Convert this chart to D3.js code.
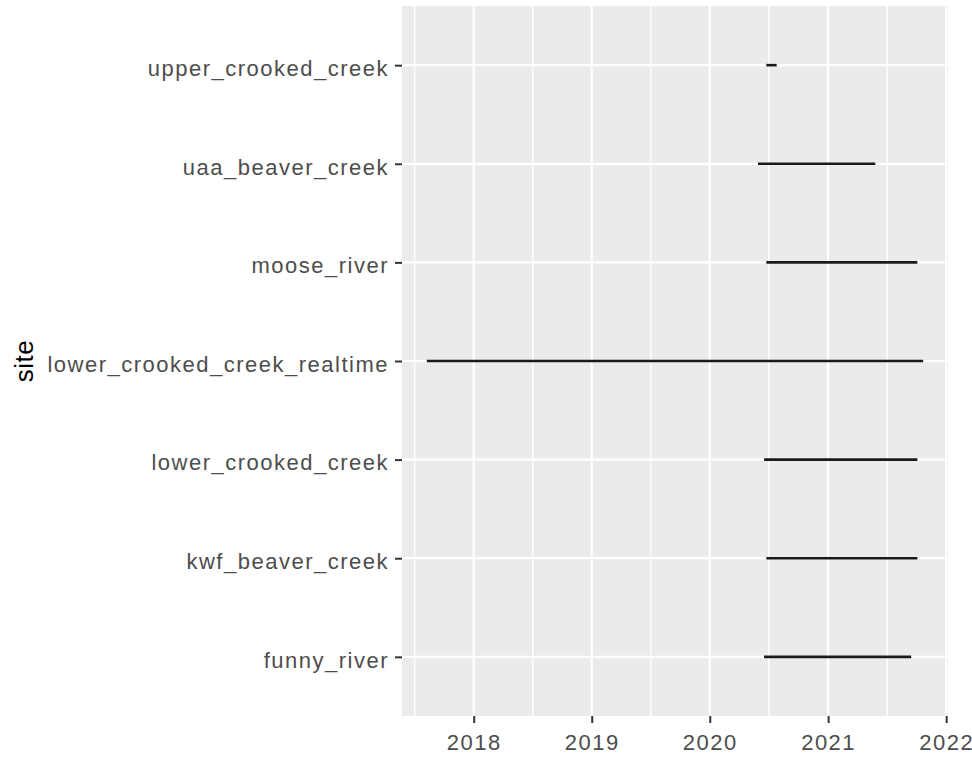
<!DOCTYPE html>
<html>
<head>
<meta charset="utf-8">
<script src="https://cdn.jsdelivr.net/npm/d3@7"></script>
<style>
    body { margin: 0; background: #ffffff; }
    svg { display: block; }
    text { font-family: "Liberation Sans", Arial, sans-serif; }
</style>
</head>
<body>
<div id="chart"></div>
<script>
// sites, bottom to top as in the plot
const sites = [
    "funny_river",
    "kwf_beaver_creek",
    "lower_crooked_creek",
    "lower_crooked_creek_realtime",
    "moose_river",
    "uaa_beaver_creek",
    "upper_crooked_creek"
];
// first and last record per site
const startDates = ["2020-06-17", "2020-06-24", "2020-06-17", "2017-08-09", "2020-06-24", "2020-05-29", "2020-06-24"];
const endDates = ["2021-09-15", "2021-10-04", "2021-10-04", "2021-10-22", "2021-10-04", "2021-05-27", "2020-07-26"];
const yearTicks = [2018, 2019, 2020, 2021, 2022];

const width = 972, height = 759;
const margin = {top: 6, right: 24, bottom: 43, left: 402};
const panelW = width - margin.left - margin.right;
const panelH = height - margin.top - margin.bottom;

const parse = d3.timeParse("%Y-%m-%d");
const rows = sites.map((s, i) => ({site: s, start: parse(startDates[i]), end: parse(endDates[i])}));

const svg = d3.select("#chart").append("svg")
    .attr("width", width)
    .attr("height", height);

// ggplot-style 5% expansion of the date range
const lo = d3.min(rows, d => +d.start), hi = d3.max(rows, d => +d.end);
const pad = (hi - lo) * 0.05;
const x = d3.scaleTime()
    .domain([new Date(lo - pad), new Date(hi + pad)])
    .range([0, panelW]);

const y = d3.scalePoint()
    .domain(sites)
    .range([panelH, 0])
    .padding(0.6);

const g = svg.append("g").attr("transform", `translate(${margin.left},${margin.top})`);

g.append("rect")
    .attr("width", panelW)
    .attr("height", panelH)
    .attr("fill", "#ebebeb");

const majors = yearTicks.map(yr => new Date(yr, 0, 1));
let minors = [];
for (let i = -1; i < majors.length; i++) {
    let a = i < 0 ? new Date(yearTicks[0] - 1, 0, 1) : majors[i];
    let b = i + 1 < majors.length ? majors[i + 1] : new Date(yearTicks[yearTicks.length - 1] + 1, 0, 1);
    let m = new Date((+a + +b) / 2);
    if (x(m) >= 0 && x(m) <= panelW) minors.push(m);
}

g.selectAll("line.minor").data(minors).join("line")
    .attr("class", "minor")
    .attr("x1", d => x(d)).attr("x2", d => x(d))
    .attr("y1", 0).attr("y2", panelH)
    .attr("stroke", "#ffffff").attr("stroke-width", 1.4);

g.selectAll("line.majorx").data(majors.filter(d => x(d) <= panelW + 1)).join("line")
    .attr("class", "majorx")
    .attr("x1", d => x(d)).attr("x2", d => x(d))
    .attr("y1", 0).attr("y2", panelH)
    .attr("stroke", "#ffffff").attr("stroke-width", 2.2);

g.selectAll("line.majory").data(sites).join("line")
    .attr("class", "majory")
    .attr("x1", 0).attr("x2", panelW)
    .attr("y1", d => y(d)).attr("y2", d => y(d))
    .attr("stroke", "#ffffff").attr("stroke-width", 2.2);

// one segment per site
g.selectAll("line.seg").data(rows).join("line")
    .attr("class", "seg")
    .attr("x1", d => x(d.start)).attr("x2", d => x(d.end))
    .attr("y1", d => y(d.site)).attr("y2", d => y(d.site))
    .attr("stroke", "#1a1a1a").attr("stroke-width", 2.6);

// axes
const xAxis = g.append("g")
    .attr("transform", `translate(0,${panelH})`)
    .call(d3.axisBottom(x).tickValues(majors).tickFormat(d3.timeFormat("%Y")).tickSize(7).tickPadding(11));

const yAxis = g.append("g")
    .call(d3.axisLeft(y).tickSize(7).tickPadding(6));

[xAxis, yAxis].forEach(ax => {
    ax.select(".domain").remove();
    ax.selectAll(".tick line").attr("stroke", "#333333").attr("stroke-width", 2);
    ax.selectAll(".tick text")
        .attr("fill", "#4d4d4d")
        .style("font-size", "22px")
        .style("letter-spacing", "1.5px")
        .style("font-family", "'Liberation Sans', Arial, sans-serif");
});
xAxis.selectAll(".tick text").attr("dy", "0.71em");
yAxis.selectAll(".tick text").attr("dy", "0.47em");

svg.append("text")
    .attr("transform", `translate(33,${margin.top + panelH / 2}) rotate(-90)`)
    .attr("text-anchor", "middle")
    .attr("fill", "#000000")
    .style("font-size", "26px")
    .style("letter-spacing", "0.5px")
    .text("site");
</script>
</body>
</html>
